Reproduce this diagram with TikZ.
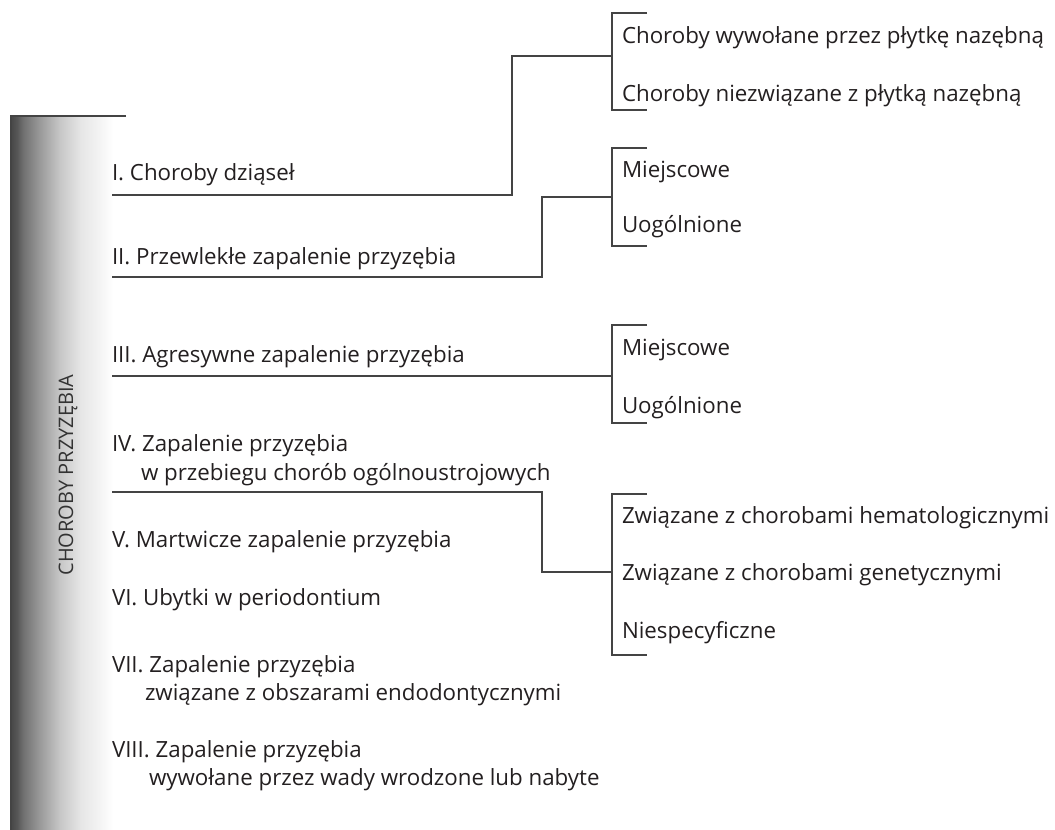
\documentclass[tikz,border=0pt]{standalone}
\usepackage{fontspec}
\setmainfont{Open Sans}
\definecolor{txt}{HTML}{231F20}
\definecolor{ln}{HTML}{444444}
\pgfdeclarehorizontalshading{barshade}{100bp}{color(0bp)=(black!72); color(25bp)=(black!72); color(28bp)=(black!66); color(31bp)=(black!56); color(39bp)=(black!40); color(49bp)=(black!22); color(59bp)=(black!10); color(69bp)=(black!4); color(75bp)=(white); color(100bp)=(white)}
\begin{document}
\begin{tikzpicture}[x=1pt,y=-1pt,
  lbl/.style={anchor=base west,inner sep=0pt,outer sep=0pt,text=txt,font=\fontsize{22.3}{26}\selectfont},
  ln/.style={draw=ln,line width=1.3pt}]
\useasboundingbox (0,0) rectangle (1055,830);
% side bar
\shade[shading=barshade] (11,116) rectangle (113,830);
\draw[ln] (126,116) -- (11,116) -- (11,830);
\node[rotate=90,anchor=base,inner sep=0pt,text=black!80,font=\fontsize{20}{23}\selectfont] (title) at (73,475) {CHOROBY PRZYZĘBIA};
% left items
\node[lbl] (i1) at (112,180) {I. Choroby dziąseł};
\node[lbl] (i2) at (112,264) {II. Przewlekłe zapalenie przyzębia};
\node[lbl] (i3) at (112,362) {III. Agresywne zapalenie przyzębia};
\node[lbl] (i4) at (112,451) {IV. Zapalenie przyzębia};
\node[lbl] (i4b) at (141,480) {w przebiegu chorób ogólnoustrojowych};
\node[lbl] (i5) at (112,547) {V. Martwicze zapalenie przyzębia};
\node[lbl] (i6) at (112,605) {VI. Ubytki w periodontium};
\node[lbl] (i7) at (112,672) {VII. Zapalenie przyzębia};
\node[lbl] (i7b) at (145,700) {związane z obszarami endodontycznymi};
\node[lbl] (i8) at (112,757) {VIII. Zapalenie przyzębia};
\node[lbl] (i8b) at (149,785) {wywołane przez wady wrodzone lub nabyte};
% right items
\node[lbl] (a1) at (622,43) {Choroby wywołane przez płytkę nazębną};
\node[lbl] (a2) at (622,101) {Choroby niezwiązane z płytką nazębną};
\node[lbl] (b1) at (622,177) {Miejscowe};
\node[lbl] (b2) at (622,232) {Uogólnione};
\node[lbl] (c1) at (622,355) {Miejscowe};
\node[lbl] (c2) at (622,413) {Uogólnione};
\node[lbl] (d1) at (622,523) {Związane z chorobami hematologicznymi};
\node[lbl] (d2) at (622,580) {Związane z chorobami genetycznymi};
\node[lbl] (d3) at (622,638) {Niespecyficzne};
% connector coordinates
\coordinate (u1) at (112,195); \coordinate (k1) at (512,195); \coordinate (m1) at (612,56);
\coordinate (t1a) at (647,13); \coordinate (t1b) at (647,110);
\coordinate (u2) at (112,277); \coordinate (k2) at (542,277); \coordinate (m2) at (612,197);
\coordinate (t2a) at (647,148); \coordinate (t2b) at (647,246);
\coordinate (u3) at (112,376); \coordinate (m3) at (612,376);
\coordinate (t3a) at (647,325); \coordinate (t3b) at (647,423);
\coordinate (u4) at (112,492); \coordinate (k4) at (542,492); \coordinate (m4) at (612,572);
\coordinate (t4a) at (647,494); \coordinate (t4b) at (647,655);
% connectors
\draw[ln] (u1) -- (k1) |- (m1);
\draw[ln] (t1a) -| (m1) |- (t1b);
\draw[ln] (u2) -- (k2) |- (m2);
\draw[ln] (t2a) -| (m2) |- (t2b);
\draw[ln] (u3) -- (m3);
\draw[ln] (t3a) -| (m3) |- (t3b);
\draw[ln] (u4) -- (k4) |- (m4);
\draw[ln] (t4a) -| (m4) |- (t4b);
\end{tikzpicture}
\end{document}
